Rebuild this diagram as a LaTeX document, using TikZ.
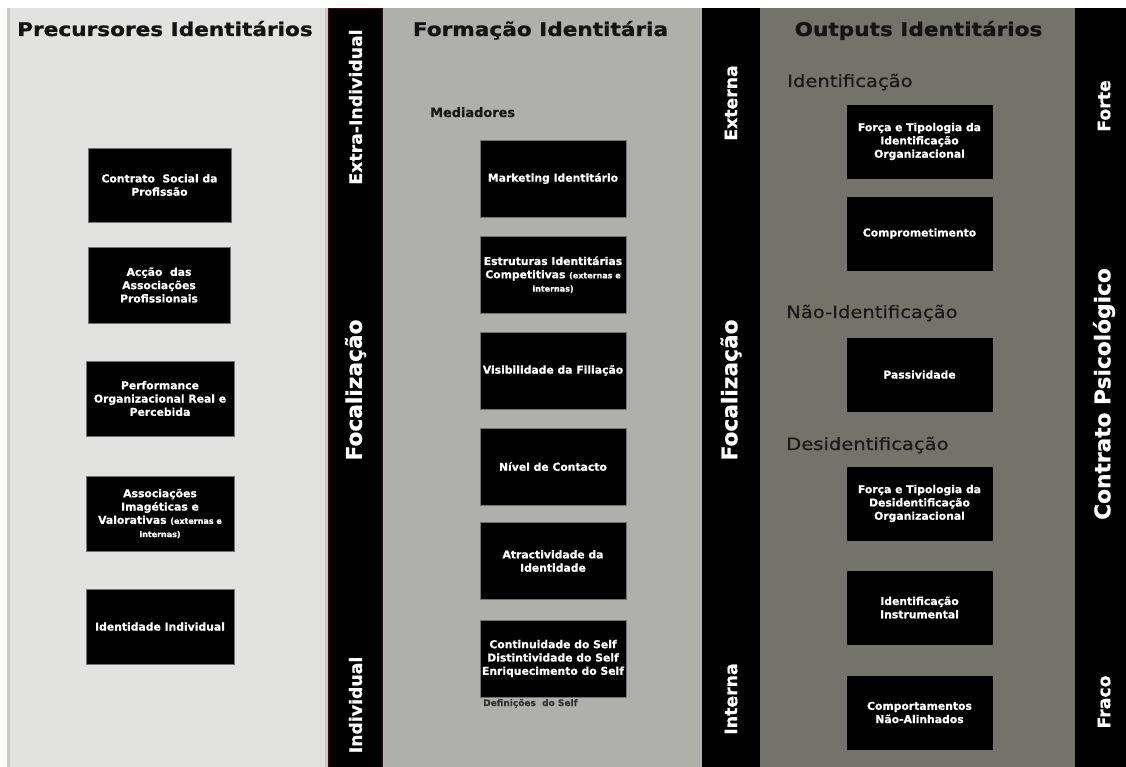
\documentclass[tikz,border=0pt]{standalone}
\usepackage{fontspec}
\setmainfont{DejaVu Sans}
\newfontfamily\headfont{DejaVu Sans Bold}[FakeStretch=1.15, FakeBold=1.2]
\newfontfamily\subfont{DejaVu Sans}[FakeStretch=1.15, FakeBold=0.7]
\newfontfamily\boxfont{DejaVu Sans Bold}[FakeBold=0.6]
\newcommand\smalltxt{\fontsize{8}{10}\selectfont}
\definecolor{paneA}{HTML}{E2E2E1}
\definecolor{paneAedge}{HTML}{C8C8C6}
\definecolor{paneB}{HTML}{B0B0AA}
\definecolor{paneC}{HTML}{74736A}
\definecolor{barEdge}{HTML}{3A0E0E}
\begin{document}
\begin{tikzpicture}[x=1pt,y=-1pt,
  box/.style={fill=black, draw=black!55, line width=0.6pt, text=white,
    font=\boxfont\fontsize{10.8}{13.3}\selectfont, align=center, inner sep=0pt},
  boxA/.style={box, minimum width=148pt, minimum height=75pt},
  boxB/.style={box, minimum width=146pt, minimum height=77pt},
  boxC/.style={box, minimum width=147pt, minimum height=75pt},
  heading/.style={font=\headfont\fontsize{18.8}{22}\selectfont,
    text=black!92, anchor=base, inner sep=0pt},
  subheading/.style={font=\subfont\fontsize{17}{20}\selectfont,
    text=black!90, anchor=base west, inner sep=0pt},
  bartext/.style={font=\boxfont\fontsize{17.3}{20}\selectfont, text=white,
    rotate=90, inner sep=0pt},
  bigbartext/.style={bartext, font=\boxfont\fontsize{21.7}{24}\selectfont},
]
\useasboundingbox (0,0) rectangle (1126,767);
\fill[white] (0,0) rectangle (1126,767);

% column panels
\fill[paneA] (7,8) rectangle (328,767);
\fill[paneAedge] (7,8) rectangle (10,767);
\fill[paneAedge] (325,8) rectangle (328,767);
\fill[paneB] (383,8) rectangle (702,767);
\fill[paneC] (760,8) rectangle (1075,767);

% separating bars
\fill[black, draw=barEdge, line width=0.8pt] (328.4,8) rectangle (382.6,767);
\fill[black] (702,8) rectangle (760,767);
\fill[black] (1075,8) rectangle (1126,767);

% column titles
\node[heading] (hA) at (165,36) {Precursores Identitários};
\node[heading] (hB) at (540.5,36) {Formação Identitária};
\node[heading] (hC) at (918.5,36) {Outputs Identitários};

% bar labels
\node[bartext] (b1top) at (355.5,107) {Extra-Individual};
\node[bigbartext] (b1mid) at (355.5,390) {Focalização};
\node[bartext] (b1bot) at (355.5,705) {Individual};
\node[bartext] (b2top) at (731,103) {Externa};
\node[bigbartext] (b2mid) at (731,390) {Focalização};
\node[bartext] (b2bot) at (731,699) {Interna};
\node[bartext] (b3top) at (1104,106) {Forte};
\node[bigbartext] (b3mid) at (1104,394) {Contrato Psicológico};
\node[bartext] (b3bot) at (1104,702) {Fraco};

% precursors
\node[boxA, minimum width=143pt, minimum height=74pt] (pa1) at (159.5,185) {Contrato\ \ Social da\\Profissão};
\node[boxA, minimum width=142pt, minimum height=76pt] (pa2) at (159,285) {Acção\ \ das\\Associações\\Profissionais};
\node[boxA] (pa3) at (160,398.5) {Performance\\Organizacional Real e\\Percebida};
\node[boxA] (pa4) at (160,513.5) {Associações\\Imagéticas e\\Valorativas {\smalltxt(externas e}\\{\smalltxt internas)}};
\node[boxA] (pa5) at (160,626.5) {Identidade Individual};

% formation
\node[anchor=base west, inner sep=0pt, text=black!90,
  font=\boxfont\fontsize{12.9}{15}\selectfont] (med) at (430,117) {Mediadores};
\node[boxB] (fb1) at (553,178.5) {Marketing Identitário};
\node[boxB] (fb2) at (553,274.5) {Estruturas Identitárias\\Competitivas {\smalltxt(externas e}\\{\smalltxt internas)}};
\node[boxB] (fb3) at (553,370.5) {Visibilidade da Filiação};
\node[boxB] (fb4) at (553,466.5) {Nível de Contacto};
\node[boxB] (fb5) at (553,561) {Atractividade da\\Identidade};
\node[boxB] (fb6) at (553,658.5) {Continuidade do Self\\Distintividade do Self\\Enriquecimento do Self};
\node[anchor=base west, inner sep=0pt, text=black!80,
  font=\boxfont\fontsize{9}{11}\selectfont] (defs) at (483,706) {Definições\ \ do Self};

% outputs
\node[subheading] (sIdent) at (787,87) {Identificação};
\node[boxC] (oc1) at (919.5,141.5) {Força e Tipologia da\\Identificação\\Organizacional};
\node[boxC] (oc2) at (919.5,233.5) {Comprometimento};
\node[subheading] (sNao) at (786,318) {Não-Identificação};
\node[boxC] (oc3) at (919.5,374.5) {Passividade};
\node[subheading] (sDes) at (786,450) {Desidentificação};
\node[boxC] (oc4) at (919.5,503.5) {Força e Tipologia da\\Desidentificação\\Organizacional};
\node[boxC] (oc5) at (919.5,607.5) {Identificação\\Instrumental};
\node[boxC] (oc6) at (919.5,712.5) {Comportamentos\\Não-Alinhados};
\end{tikzpicture}
\end{document}
